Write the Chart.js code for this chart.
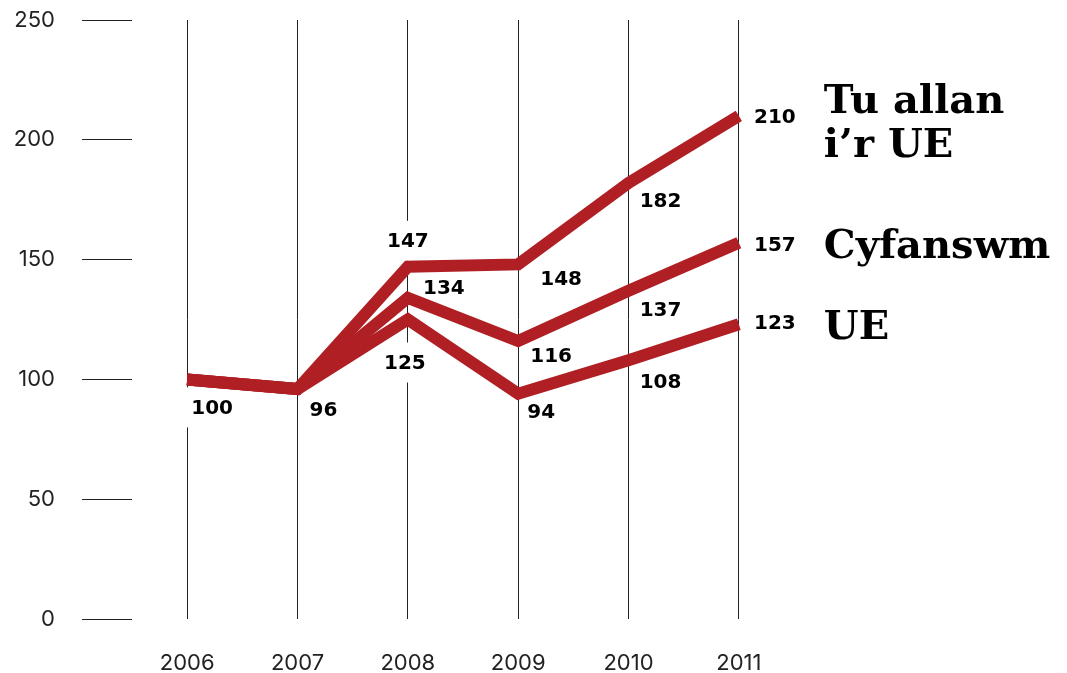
<!DOCTYPE html>
<html>
<head>
<meta charset="utf-8">
<script src="https://cdn.jsdelivr.net/npm/chart.js@4"></script>
<style>
  html, body { margin: 0; padding: 0; background: #fff; }
  #wrap { width: 1067px; height: 673px; position: relative; }
</style>
</head>
<body>
<div id="wrap"><canvas id="indexChart"></canvas></div>
<script>
// Chart values
const years = ['2006', '2007', '2008', '2009', '2010', '2011'];
const outsideEU = [100, 96, 147, 148, 182, 210];
const total = [100, 96, 134, 116, 137, 157];
const insideEU = [100, 96, 125, 94, 108, 123];
const seriesNames = [['Tu allan', 'i’r UE'], ['Cyfanswm'], ['UE']];

// Where each value label sits relative to its point (null = not drawn)
const labelOffsets = [
  [[25, 28], [26, 21], [0, -26], [43, 14], [32, 18], [36, 1]],
  [null, null, [36, -10], [33, 15], [32, 19], [36, 2]],
  [null, null, [-3, 43], [23, 18], [32, 22], [36, -1]]
];

const RED = '#b01f24';
const labelFont = 'bold 20px "DejaVu Sans"';
const nameFont = 'bold 40px "DejaVu Serif"';

// Draws value labels (under the lines) and series names at the line ends
const labelPlugin = {
  id: 'labels',
  beforeDatasetsDraw(chart) {
    const ctx = chart.ctx;
    ctx.save();
    ctx.font = labelFont;
    ctx.textAlign = 'center';
    ctx.textBaseline = 'middle';
    chart.data.datasets.forEach((ds, i) => {
      const meta = chart.getDatasetMeta(i);
      meta.data.forEach((pt, j) => {
        const off = labelOffsets[i][j];
        if (!off) return;
        const x = pt.x + off[0], y = pt.y + off[1];
        const text = String(ds.data[j]);
        const w = ctx.measureText(text).width;
        ctx.fillStyle = '#fff';
        ctx.fillRect(x - w / 2 - 6, y - 20, w + 12, 40);
        ctx.fillStyle = '#000';
        ctx.fillText(text, x, y + 1);
      });
    });
    ctx.restore();
  },
  afterDatasetsDraw(chart) {
    const ctx = chart.ctx;
    ctx.save();
    ctx.font = nameFont;
    ctx.fillStyle = '#000';
    ctx.textAlign = 'left';
    ctx.textBaseline = 'alphabetic';
    chart.data.datasets.forEach((ds, i) => {
      const meta = chart.getDatasetMeta(i);
      const last = meta.data[meta.data.length - 1];
      const lines = seriesNames[i];
      const n = lines.length;
      lines.forEach((line, k) => {
        const base = last.y + 15 + (k - (n - 1) / 2) * 44 + (n > 1 ? 4 : 0);
        ctx.fillText(line, last.x + 85, base);
      });
    });
    ctx.restore();
  }
};

function makeSeries(label, values) {
  return {
    label: label,
    data: values,
    borderColor: RED,
    borderWidth: 12,
    borderJoinStyle: 'miter',
    borderCapStyle: 'butt',
    pointRadius: 0,
    pointHoverRadius: 0,
    tension: 0,
    fill: false
  };
}

const ctx = document.getElementById('indexChart').getContext('2d');
new Chart(ctx, {
  type: 'line',
  data: {
    labels: years,
    datasets: [
      makeSeries('Tu allan i’r UE', outsideEU),
      makeSeries('Cyfanswm', total),
      makeSeries('UE', insideEU)
    ]
  },
  plugins: [labelPlugin],
  options: {
    responsive: true,
    maintainAspectRatio: false,
    animation: false,
    layout: { autoPadding: false, padding: { top: 20, right: 273, bottom: 0, left: 0 } },
    plugins: {
      legend: { display: false },
      tooltip: { enabled: false }
    },
    scales: {
      x: {
        offset: true,
        border: { display: false },
        grid: { offset: false, color: '#222', lineWidth: 1, drawTicks: false },
        ticks: { color: '#222', padding: 31, font: { family: 'Inter', size: 22 } },
        afterFit(scale) { scale.height = 54; }
      },
      y: {
        min: 0,
        max: 250,
        border: { display: false },
        grid: { drawOnChartArea: false, drawTicks: true, tickLength: 50, color: '#222', lineWidth: 1 },
        ticks: { stepSize: 50, color: '#222', padding: 27, font: { family: 'Inter', size: 22 } },
        afterFit(scale) { scale.width = 132; scale.paddingTop = 0; scale.paddingBottom = 0; }
      }
    }
  }
});
</script>
</body>
</html>
